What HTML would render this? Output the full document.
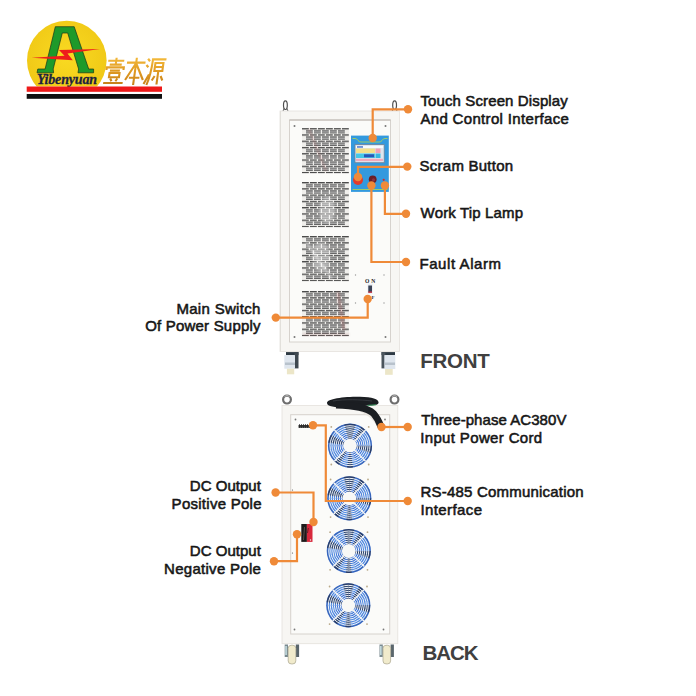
<!DOCTYPE html>
<html><head><meta charset="utf-8">
<style>
html,body{margin:0;padding:0;background:#fff;width:696px;height:696px;overflow:hidden}
svg{display:block}
.lb{font-family:"Liberation Sans",sans-serif;font-size:15px;fill:#161616;stroke:#161616;stroke-width:.55px}
.big{font-family:"Liberation Sans",sans-serif;font-weight:bold;font-size:20.5px;fill:#404040}
</style></head><body>
<svg width="696" height="696" viewBox="0 0 696 696">
<defs>
  <filter id="bl" x="-20%" y="-20%" width="140%" height="140%"><feGaussianBlur stdDeviation=".8"/></filter>
  <pattern id="ventL" x="302" y="0" width="8" height="6.27" patternUnits="userSpaceOnUse">
    <rect x="0" y="-.1" width="6.8" height="1.4" fill="#474747"/>
  </pattern>
  <pattern id="ventS" x="306" y="0" width="8" height="6.27" patternUnits="userSpaceOnUse">
    <rect x="0" y="2.1" width="6.8" height="3.3" fill="#c8c8c8"/>
    <rect x="0" y="2.1" width="6.8" height="1.1" fill="#5a5a5a"/>
    <rect x="0" y="4.25" width="6.8" height="1.1" fill="#606060"/>
  </pattern>
  <g id="ventblk">
    <rect x="302" y="0" width="47" height="45.2" fill="#f0efec"/>
    <rect x="302" y="0" width="47" height="45.2" fill="url(#ventL)"/>
    <rect x="306" y="0" width="39" height="43.9" fill="url(#ventS)"/>
  </g>
  <g id="fan">
    <circle r="22.1" fill="#3d74d6"/>
    <circle r="17" fill="none" stroke="#5a94e6" stroke-width="8" opacity=".7"/>
    <g fill="#1a1a22" opacity=".6">
      <path d="M-5.7-21.3A22 22 0 0 1 5.7-21.3L1.6-6.1A6.3 6.3 0 0 0 -1.6-6.1Z"/>
      <path d="M-21.8-3A22 22 0 0 1 -19-11L-5.4-3.2A6.3 6.3 0 0 0 -6.2-0.9Z"/>
      <path d="M22 0A22 22 0 0 1 20.7 7.5L5.9 2.1A6.3 6.3 0 0 0 6.3 0Z"/>
      <path d="M-11 19A22 22 0 0 1 -15.5 15.5L-4.5 4.5A6.3 6.3 0 0 0 -3.2 5.4Z"/>
      <path d="M11-19A22 22 0 0 1 15.5-15.5L4.5-4.5A6.3 6.3 0 0 0 3.2-5.4Z"/>
      <path d="M3 21.8A22 22 0 0 1 -3 21.8L-0.9 6.2A6.3 6.3 0 0 0 0.9 6.2Z"/>
    </g>
    <g fill="none" stroke="#f0f3f8" stroke-width="1">
      <circle r="8"/><circle r="10"/><circle r="12"/><circle r="14"/><circle r="16"/><circle r="18"/><circle r="20"/>
    </g>
    <circle r="21.3" fill="none" stroke="#2a3a70" stroke-width="1.1" opacity=".3"/>
    <g stroke="#f4f4f4" stroke-width="1.4">
      <line x1="-15.6" y1="-15.6" x2="15.6" y2="15.6"/>
      <line x1="15.6" y1="-15.6" x2="-15.6" y2="15.6"/>
    </g>
    <circle r="6.9" fill="#f8f8f6"/>
    <g fill="#b8a888"><circle cx="-18.7" cy="-18.8" r=".9"/><circle cx="18.7" cy="-18.8" r=".9"/><circle cx="-18.7" cy="18.8" r=".9"/><circle cx="18.7" cy="18.8" r=".9"/></g>
  </g>
</defs>

<!-- ============ LOGO ============ -->
<g id="logo">
  <clipPath id="lc"><rect x="0" y="0" width="200" height="86.5"/></clipPath>
  <radialGradient id="yg" cx=".5" cy=".45" r=".55"><stop offset="0" stop-color="#f9da22"/><stop offset="1" stop-color="#f0c816"/></radialGradient>
  <circle cx="66.8" cy="60.6" r="39.8" fill="url(#yg)" clip-path="url(#lc)"/>
  <!-- A -->
  <path d="M37 72.8 L37.8 69 L45.1 69 L55.3 26.7 L74.2 26.7 L88.7 69 L93.6 69 L93.6 72.8 L78 72.8 L78.6 69 L67.7 33 L62.3 33 L53.2 69 L53.6 72.8Z" fill="#1e9a2a" stroke="#17351a" stroke-width=".7"/>
  <!-- lightning -->
  <path d="M31.6 57.7 L64.5 55.8 L59 50 L100 49.1 L67.5 53.6 L72.8 60.2Z" fill="#ee1c1c"/>
  <text x="37" y="84.4" font-family="Liberation Serif" font-style="italic" font-weight="bold" font-size="14" fill="#1c2240" textLength="60" lengthAdjust="spacing" stroke="#1c2240" stroke-width=".3">Yibenyuan</text>
  <rect x="26.7" y="86.5" width="135.3" height="5.3" fill="#ee1a1a"/>
  <rect x="26.7" y="94" width="135.3" height="4.8" fill="#111"/>
  <!-- Chinese characters (approx strokes) -->
  <linearGradient id="gold" x1="0" y1="0" x2="0" y2="1"><stop offset="0" stop-color="#f2b83a"/><stop offset=".5" stop-color="#e09a22"/><stop offset="1" stop-color="#c8821a"/></linearGradient>
  <g transform="translate(0 84) skewX(-8) translate(0 -84)" stroke="url(#gold)" stroke-width="2.1" fill="none" stroke-linecap="butt">
    <path d="M105 60.8 H121 M113 57.8 V64.6 M107 64.6 H119 M104.5 70 V67.4 H121.5 V70 M108 70.6 H118 M108 73 H118 V77.2 H108Z M109.5 78.6 L111 81.2 M116.5 78.6 L115 81.2 M103 83 H122.5"/>
    <path d="M124 62.6 H142.5 M133.2 57.7 V85 M133 63.5 L124.5 80 M133.4 63.5 L142.3 80 M128 77.8 H138.5"/>
    <path d="M144.6 58.8 L146.8 61.2 M143.8 65 L146 67.2 M143.5 84 L147.6 74.5 M148.5 59.4 H163 M149.6 59.5 Q149.5 76 146.5 85 M152.5 63 H160.5 V71 H152.5Z M152.5 67 H160.5 M156.5 72 V84.5 M153.5 76 L151.2 80.5 M159.5 76 L161.8 80.5"/>
  </g>
</g>

<!-- ============ FRONT CABINET ============ -->
<g id="front">
  <!-- hooks -->
  <ellipse cx="285.4" cy="105.2" rx="1.9" ry="4.3" fill="none" stroke="#4e4e4e" stroke-width="1.2"/><path d="M283 111 L284.5 108 M288 111 L286.5 108" stroke="#666" stroke-width="1.1"/>
  <ellipse cx="394.6" cy="105.2" rx="1.9" ry="4.3" fill="none" stroke="#4e4e4e" stroke-width="1.2"/><path d="M392.2 111 L393.7 108 M397 111 L395.5 108" stroke="#666" stroke-width="1.1"/>
  <rect x="280" y="111" width="119.5" height="240.5" fill="#f7f6f3" stroke="#e4e1dc" stroke-width=".8"/>
  <rect x="280" y="111" width="1" height="240.5" fill="#e2e0db"/>
  <rect x="289.5" y="120" width="101" height="222" fill="#fbfbf9" stroke="#d6d2cd" stroke-width="1"/><path d="M289.5 120 H390.5" stroke="#bdb6b0" stroke-width="1"/>
  <use href="#ventblk" y="128.1"/>
  <use href="#ventblk" y="182"/>
  <use href="#ventblk" y="236"/>
  <use href="#ventblk" y="291"/>
  <g filter="url(#bl)">
    <path d="M309 129 L326 171" stroke="#c06060" stroke-width="1" opacity=".45"/>
    <ellipse cx="327" cy="210" rx="8" ry="13" fill="#fff" opacity=".35"/>
    <ellipse cx="321" cy="257" rx="9" ry="15" fill="#fff" opacity=".3"/>
    <path d="M306 242 L332 279" stroke="#fff" stroke-width="1.6" opacity=".6"/>
    <path d="M338 292 L344 330" stroke="#b05050" stroke-width="2.5" opacity=".3"/>
    <path d="M303 334.3 H349" stroke="#a04848" stroke-width=".8" opacity=".5"/>
  </g>
  <!-- screws -->
  <g fill="#777"><circle cx="294.5" cy="126" r="1"/><circle cx="385.5" cy="126" r="1"/><circle cx="294.5" cy="337" r="1"/><circle cx="385.5" cy="337" r="1"/></g>
  <!-- control panel -->
  <rect x="351" y="135.6" width="37.8" height="56.3" fill="#3399de"/>
  <path d="M352.5 138.5 H355 Q357 138.5 358 140.5 Q359 142 361 142 H379 Q381 142 382 140.5 Q383 138.5 385 138.5 H387.5" fill="none" stroke="#b8d84a" stroke-width=".8"/>
  <path d="M352.5 189.5 H387.5" fill="none" stroke="#b8d84a" stroke-width=".8"/>
  <rect x="355" y="144.6" width="29.2" height="18.1" fill="#dfe6ef" stroke="#6f8296" stroke-width=".8"/>
  <rect x="356" y="146" width="27" height="2" fill="#f6fbff"/>
  <rect x="357" y="146.2" width="6" height="1.5" fill="#4a78d0"/>
  <rect x="356" y="148.5" width="19" height="4.5" fill="#f4df8a"/>
  <rect x="375.5" y="148.5" width="5" height="4.5" fill="#f2a0b4"/>
  <rect x="356" y="153.5" width="19" height="4.5" fill="#47c7e6"/>
  <rect x="364" y="154.3" width="10" height="3" fill="#2a55b8"/>
  <rect x="375.5" y="153.5" width="5" height="4.5" fill="#38b7e0"/>
  <rect x="356" y="158.8" width="27" height="2.3" fill="#f2a8bb"/>
  <circle cx="358" cy="180" r="5" fill="#e23a2a"/>
  <circle cx="372.7" cy="179.3" r="3.9" fill="#6a1e26"/><circle cx="373.5" cy="179.8" r="1.6" fill="#a04050" opacity=".6"/>
  <circle cx="383.7" cy="179.8" r="1.1" fill="#d02a2a"/>
  <!-- switch -->
  <text x="365" y="282.6" font-family="Liberation Serif" font-weight="bold" font-size="5.6" fill="#222" textLength="10.2">O N</text>
  <rect x="367.6" y="283.6" width="5.1" height="10.1" fill="#e8ecf2"/>
  <rect x="368.3" y="285.5" width="3.7" height="7" fill="#3a4256"/>
  <rect x="368.3" y="291.5" width="3.7" height="1.3" fill="#d03040"/>
  <text x="371.6" y="299" font-family="Liberation Serif" font-weight="bold" font-size="5" fill="#333">F</text>
  <g fill="#9a9a9a"><circle cx="355.5" cy="275" r=".7"/><circle cx="384" cy="275" r=".7"/><circle cx="355.5" cy="303" r=".7"/><circle cx="384" cy="303" r=".7"/></g>
  <!-- casters -->
  <rect x="286" y="352.1" width="12.5" height="3" fill="#2e3a44"/>
  <rect x="294.2" y="352.1" width="4.3" height="16.3" fill="#3e4850"/>
  <rect x="284.3" y="355.1" width="10.7" height="13.6" fill="#dfe6ee"/>
  <rect x="285" y="362.5" width="10" height="2.5" fill="#b8c2cc"/>
  <rect x="286.9" y="368.7" width="7.3" height="5.6" fill="#ece6c8"/>
  <rect x="381.5" y="352.1" width="13.5" height="3" fill="#2e3a44"/>
  <rect x="381.5" y="352.1" width="3.8" height="16.3" fill="#4a545c"/>
  <rect x="384.3" y="355.1" width="11" height="13.9" fill="#dfe6ee"/>
  <rect x="385" y="362.5" width="10" height="2.5" fill="#b8c2cc"/>
  <rect x="385.1" y="369" width="7.6" height="5.8" fill="#ece6c8"/>
</g>

<!-- ============ BACK CABINET ============ -->
<g id="back">
  <circle cx="287" cy="399.6" r="3.9" fill="none" stroke="#6e6e6e" stroke-width="2.2"/><path d="M284.5 396.5 A3.9 3.9 0 0 1 289.5 396.5" stroke="#c8c8c8" stroke-width=".8" fill="none"/>
  <circle cx="394.5" cy="399.6" r="3.9" fill="none" stroke="#6e6e6e" stroke-width="2.2"/><path d="M392 396.5 A3.9 3.9 0 0 1 397 396.5" stroke="#c8c8c8" stroke-width=".8" fill="none"/>
  <rect x="282" y="405.5" width="115.8" height="238.2" fill="#f7f6f3" stroke="#e4e1dc" stroke-width=".8"/>
  <rect x="290.7" y="414.7" width="99" height="219.3" fill="#fbfbf9" stroke="#d6d2cd" stroke-width="1"/>
  <!-- cable -->
  <path d="M345 407 C360 410 372 416 378 428 L384 424 C378 414 370 408 360 406Z" fill="#e6e2dc" opacity=".8"/>
  <path d="M327 403 C327 398.5 344 396.6 360 396.7 C372 396.8 379 399 378.6 402.8 C378.3 405.2 373 405.6 368 405.6 L350 407.3 C338 407.5 327 407.2 327 403Z" fill="#1b1e22"/>
  <path d="M336 405 C355 405.5 367 407.5 373.5 413.5 C377.5 418 379.5 422.5 381 427" fill="none" stroke="#1b1e22" stroke-width="6.8"/><path d="M333 401 C345 399 360 399.5 372 401" fill="none" stroke="#4a4e55" stroke-width=".7" opacity=".8"/>
  <path d="M367.5 405.4 L376 404.8" stroke="#3a9a60" stroke-width="1"/>
  <!-- terminal strip -->
  <rect x="298" y="420.5" width="15" height="5" fill="#fdfdfd"/>
  <rect x="298.5" y="425" width="14" height="2.8" fill="#3a3a3a"/>
  <path d="M299.5 424V428M301.5 424V428M303.5 424V428M305.5 424V428M307.5 424V428M309.5 424V428" stroke="#222" stroke-width=".7"/>
  <g fill="#777"><circle cx="295.5" cy="419.5" r=".9"/><circle cx="385" cy="419.5" r=".9"/><circle cx="294.5" cy="629.5" r=".9"/><circle cx="383.5" cy="629.5" r=".9"/></g>
  <!-- fans -->
  <use href="#fan" x="350" y="445.7"/>
  <use href="#fan" x="349.3" y="498.3"/>
  <use href="#fan" x="348.8" y="551"/>
  <use href="#fan" x="348.3" y="605.3"/>
  <g fill="#555"><circle cx="292.5" cy="490" r=".6"/><circle cx="292.5" cy="553" r=".6"/></g>
  <!-- DC terminal -->
  <rect x="301.3" y="524" width="5.6" height="17.9" fill="#1e1a1a"/>
  <rect x="306.9" y="524" width="5.6" height="17.9" fill="#d8283c"/>
  <path d="M304.5 527 L303.5 540" stroke="#8a7a70" stroke-width=".8" opacity=".7"/>
  <path d="M308.3 528 L307.5 533" stroke="#3a1a1a" stroke-width="1" opacity=".7"/>
  <circle cx="310.5" cy="540" r=".7" fill="#eee"/>
  <!-- casters -->
  <g id="castB">
    <rect x="284.7" y="644.5" width="3.3" height="12.5" fill="#7a8a90"/>
    <rect x="285.3" y="646" width="1.5" height="9" fill="#c8e0e4"/>
    <rect x="295.8" y="644.5" width="3.3" height="12.5" fill="#5a666c"/>
    <rect x="288.2" y="645.3" width="7.6" height="18.6" rx="3" fill="#f1ebcc" stroke="#a8a48e" stroke-width=".7"/>
  </g>
  <use href="#castB" x="94.8"/>
</g>

<!-- ============ CALLOUTS ============ -->
<g fill="none" stroke="#ef8a38" stroke-width="2.2" stroke-linejoin="miter">
  <polyline points="408,109.3 372.7,109.3 372.7,138"/>
  <polyline points="407.3,166.8 358,166.8 358,177"/>
  <polyline points="384.9,185.5 384.9,213.8 406,213.8"/>
  <polyline points="371.4,185.5 371.4,262 406,262"/>
  <polyline points="275.8,317.6 367.7,317.6 367.7,299"/>
  <polyline points="381.5,427 407.7,427"/>
  <polyline points="313,425.3 325.8,425.3 325.8,501 407.7,501"/>
  <polyline points="275.6,492.5 313.5,492.5 313.5,522"/>
  <polyline points="297,534.2 297,561.2 274,561.2"/>
</g>
<g fill="#ef8a38">
  <circle cx="408" cy="109.3" r="4.2"/><circle cx="372.7" cy="138" r="4.2"/>
  <circle cx="407.3" cy="166.6" r="4.2"/><circle cx="358" cy="177" r="4.2"/>
  <circle cx="384.9" cy="185.5" r="4.2"/><circle cx="406" cy="213.8" r="4.2"/>
  <circle cx="371.4" cy="185.5" r="4.2"/><circle cx="406" cy="262" r="4.2"/>
  <circle cx="275.8" cy="317.6" r="4.2"/><circle cx="367.7" cy="299" r="4.2"/>
  <circle cx="381.5" cy="427" r="4.2"/><circle cx="407.7" cy="427" r="4.2"/>
  <circle cx="313" cy="425.3" r="4.2"/><circle cx="407.7" cy="501" r="4.2"/>
  <circle cx="275.6" cy="492.5" r="4.2"/><circle cx="313.5" cy="522" r="4.2"/>
  <circle cx="297" cy="534.2" r="4.2"/><circle cx="274" cy="561.2" r="4.2"/>
</g>

<!-- ============ LABELS ============ -->
<text class="lb" x="420.4" y="106.2" textLength="147.4">Touch Screen Display</text>
<text class="lb" x="420.4" y="123.8" textLength="148.4">And Control Interface</text>
<text class="lb" x="419.6" y="170.7" textLength="93.5">Scram Button</text>
<text class="lb" x="420.6" y="217.8" textLength="102.4">Work Tip Lamp</text>
<text class="lb" x="419.4" y="268.7" textLength="81.7">Fault Alarm</text>
<text class="lb" x="176.4" y="314.1" textLength="84.0">Main Switch</text>
<text class="lb" x="145.2" y="331.2" textLength="115.3">Of Power Supply</text>
<text class="big" x="420.2" y="367.6" textLength="69.5">FRONT</text>
<text class="lb" x="421.2" y="424.9" textLength="145.2">Three-phase AC380V</text>
<text class="lb" x="420.2" y="442.5" textLength="122.0">Input Power Cord</text>
<text class="lb" x="420.4" y="497.2" textLength="163.3">RS-485 Communication</text>
<text class="lb" x="420.4" y="515.0" textLength="61.7">Interface</text>
<text class="lb" x="189.8" y="490.7" textLength="71.0">DC Output</text>
<text class="lb" x="171.6" y="508.8" textLength="89.9">Positive Pole</text>
<text class="lb" x="189.8" y="555.7" textLength="71.0">DC Output</text>
<text class="lb" x="164.0" y="574.0" textLength="96.9">Negative Pole</text>
<text class="big" x="422.6" y="660.0" textLength="55.9">BACK</text>
</svg>
</body></html>
